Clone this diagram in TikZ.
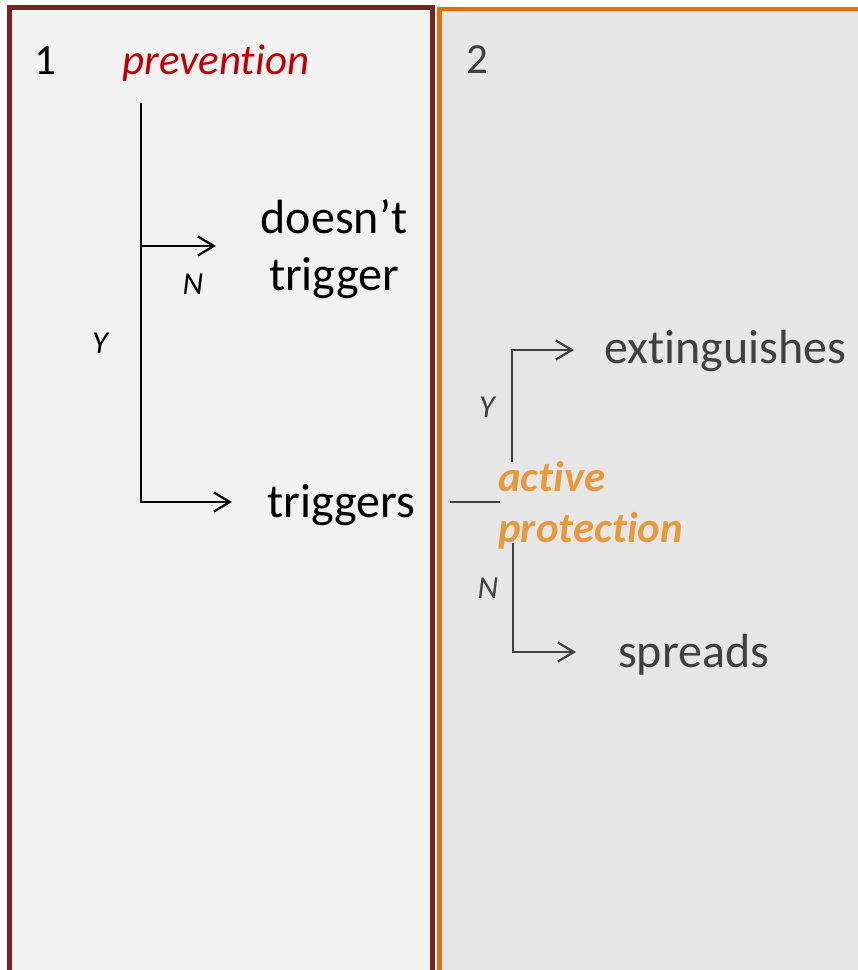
\documentclass[tikz,border=0pt]{standalone}
\usepackage{fontspec}
\setmainfont{Carlito}[Ligatures={NoCommon,NoContextual}]
\usetikzlibrary{arrows.meta}
\definecolor{panelred}{HTML}{7F1F1F}
\definecolor{panelorange}{HTML}{E46C0A}
\definecolor{leftfill}{HTML}{F2F2F2}
\definecolor{rightfill}{HTML}{E6E6E6}
\definecolor{prevred}{HTML}{C00000}
\definecolor{activeorange}{HTML}{E69A3C}
\definecolor{darkgray}{HTML}{404040}
\begin{document}
\begin{tikzpicture}[x=1pt,y=-1pt,
  big/.style={font=\fontsize{48}{57}\selectfont, inner sep=0pt},
  head/.style={font=\fontsize{43}{51}\selectfont, inner sep=0pt},
  yn/.style={font=\fontsize{32}{38}\selectfont\itshape, inner sep=0pt},
  branch/.style={line width=2.2pt, -{Straight Barb[length=16pt,width=19pt]}},
  link/.style={line width=2.2pt},
]
\useasboundingbox (0,0) rectangle (858,970);

% two panels, running off the lower and right edges
\begin{scope}
  \clip (0,0) rectangle (858,970);
  \fill[white] (0,0) rectangle (858,970);
  \draw[line width=4.5pt, panelred, fill=leftfill] (9.5,7.5) rectangle (432.5,1000);
  \draw[line width=4.5pt, panelorange, fill=rightfill] (439.5,9) rectangle (900,1000);
\end{scope}

% panel 1: prevention
\node[head, anchor=base west] (one) at (34,74) {1};
\node[head, anchor=base west, prevred, font=\fontsize{43}{51}\selectfont\itshape] (prev) at (122,74) {prevention};
\node[big, anchor=base, align=center] (dnt) at (334,290) {doesn’t\\trigger};
\node[big, anchor=base west] (trig) at (267,517) {triggers};
\node[yn, anchor=center] (nLeft) at (193,284) {N};
\node[yn, anchor=center] (yLeft) at (100,343) {Y};

\coordinate (root) at (141,103);
\coordinate (tipN) at (216,246);
\coordinate (tipY) at (232,502);
\draw[branch] (root) |- (tipY);
\draw[branch] (root |- tipN) -- (tipN);

% panel 2: active protection
\node[head, anchor=base west, darkgray] (two) at (466,73) {2};
\node[anchor=base west, align=left, inner sep=0pt, activeorange,
      font=\fontsize{43}{51}\selectfont\bfseries\itshape] (act) at (498,542) {active\\protection};
\node[big, anchor=base west, darkgray] (ext) at (604,363) {extinguishes};
\node[big, anchor=base west, darkgray] (spr) at (618,667) {spreads};
\node[yn, anchor=center, darkgray] (yRight) at (487,407) {Y};
\node[yn, anchor=center, darkgray] (nRight) at (488,588) {N};

\coordinate (feedA) at (450,502);
\coordinate (feedB) at (500,502);
\coordinate (upStart) at (512,462);
\coordinate (tipExt) at (574,350);
\coordinate (downStart) at (513,543);
\coordinate (tipSpr) at (576,652);
\draw[link, darkgray] (feedA) -- (feedB);
\draw[branch, darkgray] (upStart) |- (tipExt);
\draw[branch, darkgray] (downStart) |- (tipSpr);
\end{tikzpicture}
\end{document}
